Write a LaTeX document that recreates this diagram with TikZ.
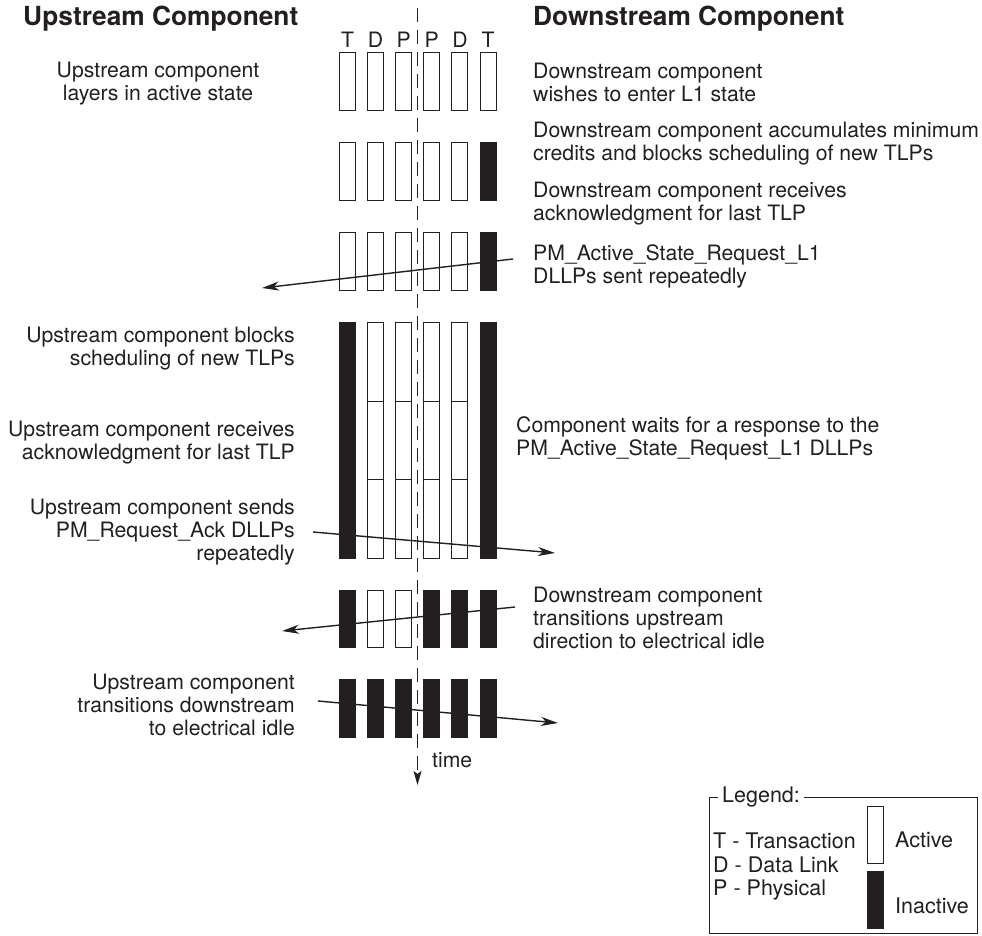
\documentclass[tikz,border=0pt]{standalone}
\usepackage{fontspec}
\setmainfont{TeX Gyre Heros}
\usetikzlibrary{arrows.meta}
\definecolor{ink}{HTML}{231F20}

\tikzset{
    layer/.style={draw=ink, line width=1pt},
    msg/.style={draw=ink, line width=1.4pt, -{Stealth[length=17pt, width=9pt, inset=5pt]}},
    note/.style={font=\fontsize{21.2}{23}\selectfont, text=ink, inner sep=0pt},
    keytext/.style={font=\fontsize{21.5}{23}\selectfont, text=ink, inner sep=0pt},
    heading/.style={font=\fontsize{26.3}{28}\selectfont\bfseries, text=ink, inner sep=0pt}
}

\begin{document}
\begin{tikzpicture}[x=1pt, y=-1pt]
        \useasboundingbox (0,0) rectangle (982,936);

        % headings
        \node[heading, anchor=base west] (uphead) at (23,26) {Upstream Component};
        \node[heading, anchor=base west] (downhead) at (533,26) {Downstream Component};

        % layer letters
        \foreach \l [count=\i from 0] in {T,D,P,P,D,T} {
            \node[note, anchor=base] (lbl\i) at ({347.5+28.1*\i},47.7) {\l};
        }

        % draw time axis
        \coordinate (tstart) at (417.5,8);
        \coordinate (tend) at (417.5,785);
        \draw[draw=ink, line width=1pt, dash pattern=on 14pt off 8pt, -{Stealth[length=14pt, width=8pt, inset=3pt]}] (tstart) -- (tend);
        \node[note, anchor=base west] (time) at (432,767) {time};

        % draw layer states, one row per step
        \foreach \ytop/\ybot/\states in {53/111/{white,white,white,white,white,white},
                143/201/{white,white,white,white,white,ink},
                232/290/{white,white,white,white,white,ink},
                322/558/{ink,white,white,white,white,ink},
                590/647/{ink,white,white,ink,ink,ink},
                679/737/{ink,ink,ink,ink,ink,ink}} {
            \foreach \s [count=\i from 0] in \states {
                \draw[layer, fill=\s] ({339.5+28.1*\i},\ytop) rectangle ({355.5+28.1*\i},\ybot);
            }
        }
        \foreach \i in {1,...,4} {
            \foreach \y in {401,479} {
                \draw[layer] ({339.5+28.1*\i},\y) -- ({355.5+28.1*\i},\y);
            }
        }

        % draw DLLP messages
        \coordinate (req) at (513,259);
        \coordinate (reqend) at (262,288);
        \coordinate (ack) at (313,532);
        \coordinate (ackend) at (555,553);
        \coordinate (dnidle) at (515,607);
        \coordinate (dnidleend) at (282,631);
        \coordinate (upidle) at (318,701);
        \coordinate (upidleend) at (558,723);
        \draw[msg] (req) -- (reqend);
        \draw[msg] (ack) -- (ackend);
        \draw[msg] (dnidle) -- (dnidleend);
        \draw[msg] (upidle) -- (upidleend);

        % upstream notes
        \node[note, anchor=north, align=center] (up1) at (158,61.7) {Upstream component\\layers in active state};
        \node[note, anchor=north east, align=right] (up2) at (295,327.2) {Upstream component blocks\\scheduling of new TLPs};
        \node[note, anchor=north east, align=right] (up3) at (295,420.7) {Upstream component receives\\acknowledgment for last TLP};
        \node[note, anchor=north east, align=right] (up4) at (295,498.7) {Upstream component sends\\PM\_Request\_Ack DLLPs\\repeatedly};
        \node[note, anchor=north east, align=right] (up5) at (295,673.7) {Upstream component\\transitions downstream\\to electrical idle};

        % downstream notes
        \node[note, anchor=north west, align=left] (dn1) at (533,62.7) {Downstream component\\wishes to enter L1 state};
        \node[note, anchor=north west, align=left] (dn2) at (533,121.4) {Downstream component accumulates minimum\\credits and blocks scheduling of new TLPs};
        \node[note, anchor=north west, align=left] (dn3) at (533,182) {Downstream component receives\\acknowledgment for last TLP};
        \node[note, anchor=north west, align=left] (dn4) at (533,244) {PM\_Active\_State\_Request\_L1\\DLLPs sent repeatedly};
        \node[note, anchor=north west, align=left] (dn5) at (516,416.7) {Component waits for a response to the\\PM\_Active\_State\_Request\_L1 DLLPs};
        \node[note, anchor=north west, align=left] (dn6) at (533,586.7) {Downstream component\\transitions upstream\\direction to electrical idle};

        % legend
        \draw[draw=ink, line width=1pt] (709,797) rectangle (977,933.5);
        \node[keytext, fill=white, inner xsep=4pt, inner ysep=2pt, anchor=west] (legend) at (718,797) {Legend:};
        \node[keytext, anchor=base west] (keyT) at (713,848) {T - Transaction};
        \node[keytext, anchor=base west] (keyD) at (713,872) {D - Data Link};
        \node[keytext, anchor=base west] (keyP) at (713,895) {P - Physical};
        \draw[layer, fill=white] (867,806) rectangle (883,863);
        \draw[layer, fill=ink] (867,871) rectangle (883,928);
        \node[keytext, anchor=base west] (keyact) at (895,847) {Active};
        \node[keytext, anchor=base west] (keyinact) at (895,913) {Inactive};
\end{tikzpicture}
\end{document}
